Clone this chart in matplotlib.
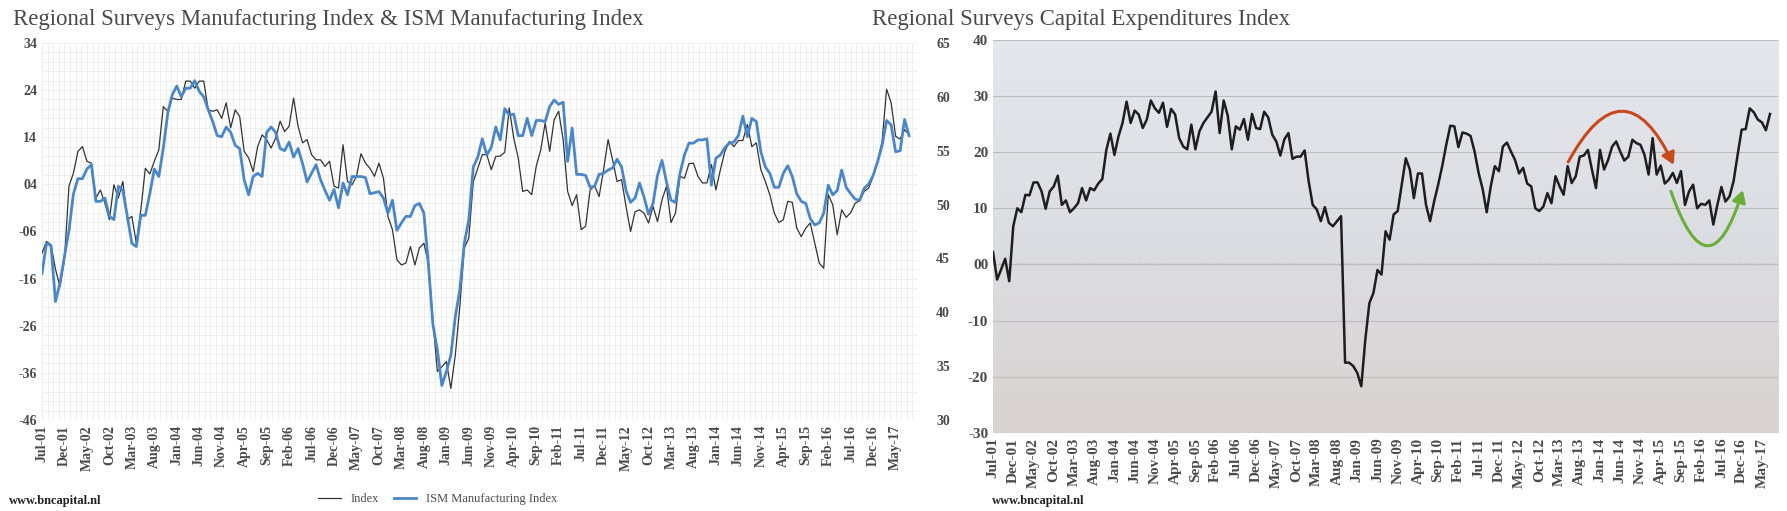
import numpy as np
import matplotlib
matplotlib.use("Agg")
import matplotlib.pyplot as plt
from matplotlib.patches import FancyArrowPatch
from matplotlib.lines import Line2D
from matplotlib.colors import LinearSegmentedColormap

# ── data (monthly, Jul-01 .. Jul-17) ─────────────────────────
regional_mfg = [
    -10.6, -8.1, -8.8, -14, -17.7, -12, 3.6, 6.4, 11, 12, 8.9, 8.5, 1.1, 2.8, 0, -3.5, 3.9, 1.1, 4.6, -3.5,
    -2.8, -8.5, -1.4, 7.4, 6.2, 8.9, 11.3, 20.5, 19.5, 22.3, 22, 22, 25.9, 25.9, 24.4, 25.9, 25.9, 19.8, 19.5, 19.8,
    18, 21.3, 16, 19.8, 18.4, 11, 9.6, 6.7, 12, 14.5, 13.5, 11.7, 13.8, 17.4, 15.2, 16.3, 22.3, 16.3, 12.8, 13.5,
    10.3, 9.2, 9.2, 7.8, 8.9, 3.6, 3.2, 12.4, 4.6, 3.9, 5.7, 10.5, 8.5, 7.4, 5.7, 8.5, 5.3, -2.8, -5.6, -12,
    -13.1, -12.7, -9.2, -13.1, -9.5, -8.5, -12.7, -24.8, -35.7, -34.7, -33.6,
    -39.3, -32.2, -21.9, -9.5, -7.4, 4.6, 7.4, 10.3, 10.3, 7.1, 9.9, 10, 10.8, 20.2, 13.8, 9.6, 2.5, 2.8, 1.8,
    7.8, 11.3, 17, 11, 17.7, 19.5, 13.5, 2.5, -0.5, 1.8, -5.6, -4.9, 2.8, 3.7, 1.4, 7.1, 13.5, 9.2, 4.6, 5,
    -0.7, -6, -1.8, -1.4, -2.1, -4.2, -0.7, -3.9, 0.7, 3.6, -4.1, -2.1, 5.7, 5.3, 8.4, 8.5, 5.7, 4.3, 4.3, 8.2,
    2.8, 7.1, 11, 13.1, 12, 13.3, 13.3, 16.7, 12, 12.8, 7.1, 4.6, 1.8, -2.1, -4.1, -3.5, 0.4, 0.2, -5.3, -7.1,
    -5.3, -4.2, -8.5, -12.7, -13.8, 1.8, -0.3, -6.7, -1.4, -3, -2, 0, 0.5, 2.5, 3.2, 5.7, 8.9, 13.1, 24.2, 21.3,
    14.2, 13.6, 15.6, 14.5,
]
ism_mfg = [
    43.6, 46.4, 46.2, 41.0, 42.7, 45.2, 47.6, 51.0, 52.4, 52.4, 53.3, 53.7, 50.3, 50.3, 50.6, 48.9, 48.6, 51.7, 51.3, 48.9,
    46.4, 46.1, 49.0, 49.0, 51.0, 53.3, 52.6, 55.2, 58.5, 60.2, 61.0, 60.0, 60.8, 60.8, 61.5, 60.5, 60.0, 58.8, 57.7, 56.4,
    56.3, 57.2, 56.7, 55.5, 55.2, 52.3, 50.9, 52.6, 52.9, 52.6, 56.7, 57.2, 56.7, 55.2, 55.0, 55.8, 54.4, 55.2, 53.8, 52.1,
    52.9, 53.7, 52.3, 51.3, 50.4, 51.4, 49.7, 52.0, 50.9, 52.6, 52.6, 52.6, 52.5, 51.0, 51.1, 51.2, 50.6, 49.2, 50.4, 47.6,
    48.3, 48.9, 48.9, 49.9, 50.1, 49.2, 44.5, 38.9, 36.5, 33.2, 34.5,
    36.0, 39.6, 42.1, 46.4, 48.6, 53.5, 54.4, 56.1, 54.6, 55.3, 57.2, 56.0, 58.9, 58.3, 58.4, 56.4, 56.4, 58.0, 56.4,
    57.8, 57.8, 57.7, 59.1, 59.7, 59.3, 59.5, 54.0, 57.1, 52.8, 52.8, 52.7, 51.6, 51.7, 52.8, 52.9, 53.2, 53.4, 54.2, 53.5,
    51.3, 50.2, 50.6, 52.0, 50.7, 49.1, 50.1, 52.7, 54.1, 52.1, 50.4, 50.2, 52.9, 54.6, 55.7, 55.7, 56.0, 56.0, 56.1, 51.8,
    54.3, 54.6, 55.3, 55.7, 55.8, 56.4, 58.2, 56.3, 58.0, 57.7, 54.9, 53.5, 52.9, 51.6, 51.6, 52.9, 53.6, 52.6, 51.0, 50.3,
    50.1, 48.7, 48.1, 48.3, 49.2, 51.8, 50.9, 51.3, 53.2, 51.6, 51.0, 50.5, 50.4, 51.5, 51.9, 52.7, 54.0, 55.5, 57.8, 57.4,
    54.9, 55.0, 57.9, 56.4,
]
capex = [
    2.2, -2.7, -0.9, 1.0, -3, 6.8, 10, 9.3, 12.4, 12.3, 14.6, 14.6, 13, 9.9, 13, 13.9, 15.8, 10.6, 11.4, 9.3,
    10, 10.9, 13.6, 11.4, 13.6, 13.2, 14.4, 15.2, 20.4, 23.3, 19.5, 22.8, 25.2, 29, 25.2, 27.4, 26.7, 24.3, 25.8, 29.2,
    27.8, 27, 28.8, 24.5, 27.7, 26.7, 22.5, 21, 20.5, 24.9, 20.5, 23.7, 25.2, 26.2, 27.2, 30.8, 23.4, 29.2, 26.5, 20.5,
    24.6, 24, 25.9, 22.2, 26.8, 24.3, 24.1, 27.2, 26.2, 23.1, 21.9, 19.4, 22.3, 23.4, 18.8, 19.2, 19.2, 20.3, 14.8, 10.6,
    9.8, 7.7, 10.2, 7.4, 6.8, 7.7, 8.6, -17.5, -17.5, -18.1, -19.3, -21.7, -13.4, -6.9, -5.1, -1, -1.8, 5.9, 4.4, 8.9,
    9.5, 14.2, 18.9, 16.9, 11.8, 16.2, 16.2, 10.6, 7.7, 11.2, 14.2, 17.5, 21.3, 24.7, 24.6, 20.9, 23.5, 23.3, 22.9, 20.1,
    16.3, 13.4, 9.3, 13.9, 17.5, 16.6, 21, 21.7, 20.1, 18.6, 16.2, 17.2, 14.4, 13.9, 10, 9.5, 10.3, 12.7, 10.9, 15.7,
    13.9, 12.4, 17.5, 14.5, 15.7, 19.2, 19.4, 20.4, 16.9, 13.6, 20.4, 16.9, 18.6, 21, 21.9, 20.1, 18.5, 19.2, 22.2, 21.6,
    21.3, 19.5, 16, 22.5, 16, 17.6, 14.4, 15.1, 16.3, 14.5, 16.6, 10.6, 13, 14.2, 10, 10.8, 10.6, 11.4, 7.1, 10.6,
    13.8, 11.2, 12.1, 14.8, 19.5, 24, 24.1, 27.8, 27.1, 25.8, 25.3, 23.9, 26.8,
]
months = ["Jan", "Feb", "Mar", "Apr", "May", "Jun", "Jul", "Aug", "Sep", "Oct", "Nov", "Dec"]
tick_pos = list(range(0, 191, 5))
tick_labels = [f"{months[(6 + p) % 12]}-{(2001 + (6 + p) // 12) % 100:02d}" for p in tick_pos]

TXT = "#4a4a4a"
plt.rcParams["font.family"] = ["Liberation Serif", "DejaVu Serif"]


def fmt2(v):
    return f"{v:02d}" if v >= 0 else f"-{abs(v):02d}"


def bold_labels(*label_lists):
    for lb in label_lists:
        for t in lb:
            t.set_fontweight("bold")


fig = plt.figure(figsize=(17.87, 5.11), dpi=100)

# ── left panel ───────────────────────────────────────────────
ax = fig.add_axes([0.0235, 0.178, 0.4895, 0.738])
n = min(len(regional_mfg), len(ism_mfg))
x = np.arange(n)
ax.plot(x, regional_mfg[:n], color="#333333", lw=0.9, zorder=3)
ax.set_ylim(-46, 34)
ax.set_xlim(0, 194.7)
ax.set_yticks(range(-46, 35, 10))
ax.set_yticklabels([fmt2(v) for v in range(-46, 35, 10)])
ax.set_yticks(np.arange(-46, 34, 2), minor=True)
ax.set_xticks(tick_pos)
ax.set_xticklabels(tick_labels, rotation=90)
ax.set_xticks(np.arange(0, 195, 1.25), minor=True)
ax.grid(True, which="both", color="#ececec", lw=0.6)
ax.set_axisbelow(True)
ax.tick_params(length=0, which="both", labelsize=10, labelcolor=TXT)
bold_labels(ax.get_xticklabels(), ax.get_yticklabels())
for s in ax.spines.values():
    s.set_visible(False)

ax2 = ax.twinx()
ax2.plot(x, ism_mfg[:n], color="#4a86c8", lw=2.0, zorder=4)
ax2.set_ylim(30, 65)
ax2.set_yticks(range(30, 66, 5))
ax2.tick_params(length=0, labelsize=10, labelcolor=TXT, pad=14)
bold_labels(ax2.get_yticklabels())
for s in ax2.spines.values():
    s.set_visible(False)

fig.text(0.007, 0.962, "Regional Surveys Manufacturing Index & ISM Manufacturing Index",
         fontsize=16.5, color=TXT, va="center")
handles = [Line2D([0], [0], color="#333333", lw=0.9),
           Line2D([0], [0], color="#4a86c8", lw=2.0)]
fig.legend(handles, ["Index", "ISM Manufacturing Index"], loc="center",
           bbox_to_anchor=(0.245, 0.023), ncol=2, frameon=False, fontsize=9,
           handlelength=1.8, columnspacing=1.2, labelcolor=TXT)
fig.text(0.005, 0.02, "www.bncapital.nl", fontsize=9, fontweight="bold", color="#222222", va="center")

# ── right panel ──────────────────────────────────────────────
bx = fig.add_axes([0.5557, 0.153, 0.4393, 0.769])
grad = np.linspace(0, 1, 256).reshape(-1, 1)
bg = LinearSegmentedColormap.from_list("bg", ["#e4e7ee", "#dcdde2", "#d9d3d1"])
bx.imshow(grad, aspect="auto", cmap=bg, extent=[0, 194, -30, 40], origin="upper", zorder=0)
xc = np.arange(len(capex))
bx.plot(xc, capex, color="#1e1e1e", lw=1.8, zorder=3)
bx.axhline(0, color="#333333", lw=0.8, ls=(0, (3, 2)), zorder=2)
bx.set_ylim(-30, 40)
bx.set_xlim(0, 194)
bx.set_yticks(range(-30, 41, 10))
bx.set_yticklabels([fmt2(v) for v in range(-30, 41, 10)])
bx.set_xticks(tick_pos)
bx.set_xticklabels(tick_labels, rotation=90)
bx.yaxis.grid(True, color="#bdbdbd", lw=0.8)
bx.set_axisbelow(False)
bx.tick_params(length=0, labelsize=11, labelcolor=TXT)
bold_labels(bx.get_xticklabels(), bx.get_yticklabels())
for s in bx.spines.values():
    s.set_visible(False)

bx.add_patch(FancyArrowPatch((141.8, 17.8), (168.5, 17.3), connectionstyle="arc3,rad=-1.0",
                             arrowstyle="-|>,head_length=7,head_width=4", color="#c8471c",
                             lw=2.2, zorder=5))
bx.add_patch(FancyArrowPatch((167.3, 13.5), (185.5, 13.7), connectionstyle="arc3,rad=1.55",
                             arrowstyle="-|>,head_length=7,head_width=4", color="#6aae3a",
                             lw=2.2, zorder=5))

fig.text(0.488, 0.962, "Regional Surveys Capital Expenditures Index",
         fontsize=16.5, color=TXT, va="center")
fig.text(0.555, 0.02, "www.bncapital.nl", fontsize=9, fontweight="bold", color="#222222", va="center")

fig.savefig("out.png", dpi=100)
